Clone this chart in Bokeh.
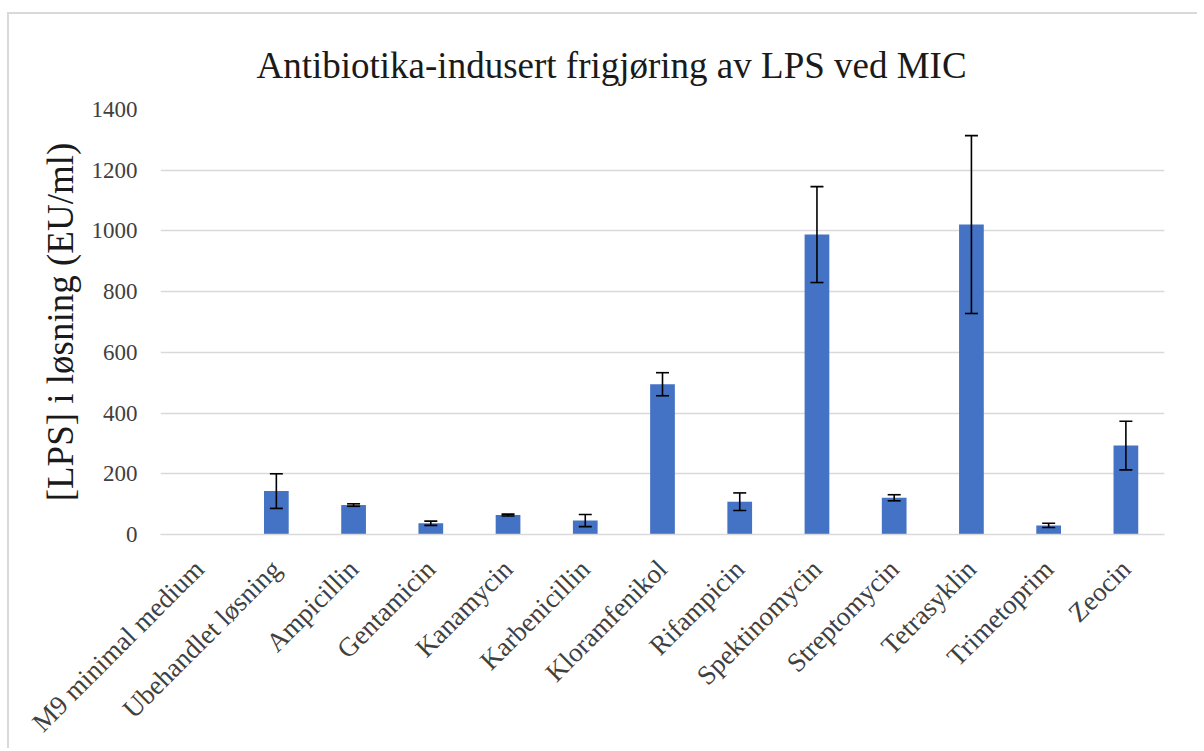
import math
from bokeh.plotting import figure
from bokeh.models import ColumnDataSource, Whisker, TeeHead, Range1d, FactorRange, Title
from bokeh.embed import file_html
from bokeh.resources import INLINE

categories = ["M9 minimal medium", "Ubehandlet løsning", "Ampicillin", "Gentamicin",
              "Kanamycin", "Karbenicillin", "Kloramfenikol", "Rifampicin",
              "Spektinomycin", "Streptomycin", "Tetrasyklin", "Trimetoprim", "Zeocin"]
values = [0, 143, 97, 37, 64, 46, 495, 108, 988, 121, 1021, 30, 293]
errors = [0, 57, 4, 7, 3, 20, 38, 29, 158, 10, 293, 7, 80]
y_ticks = [0, 200, 400, 600, 800, 1000, 1200, 1400]

title_text = "Antibiotika-indusert  frigjøring  av LPS ved MIC"
y_label = "[LPS] i løsning (EU/ml)"

SERIF = "Liberation Serif"

p = figure(width=1190, height=736, x_range=FactorRange(*categories),
           y_range=Range1d(0, 1400), output_backend="svg", toolbar_location=None,
           min_border_left=151, min_border_right=35, min_border_top=95,
           min_border_bottom=212)
p.title = Title(text=title_text, text_font=SERIF, text_font_size="37px",
                text_font_style="normal", text_color="#1a1a1a", align="left",
                offset=96, standoff=48)
p.outline_line_color = None
p.styles = {"border-top": "2px solid #d9d9d9", "border-left": "2px solid #d9d9d9",
            "margin-left": "7px", "margin-top": "12px"}

src = ColumnDataSource(data=dict(cat=categories, val=values))
p.vbar(x="cat", top="val", width=0.32, source=src, fill_color="#4472C4", line_color=None)

wc = [c for c, e in zip(categories, errors) if e > 0]
wu = [v + e for v, e in zip(values, errors) if e > 0]
wl = [v - e for v, e in zip(values, errors) if e > 0]
wsrc = ColumnDataSource(data=dict(cat=wc, upper=wu, lower=wl))
w = Whisker(source=wsrc, base="cat", upper="upper", lower="lower",
            line_color="black", line_width=1.6, level="overlay",
            upper_head=TeeHead(size=13, line_color="black", line_width=1.6),
            lower_head=TeeHead(size=13, line_color="black", line_width=1.6))
p.add_layout(w)

p.xgrid.grid_line_color = None
p.ygrid.grid_line_color = "#d9d9d9"
p.ygrid.grid_line_width = 1.5
p.yaxis.ticker = y_ticks

p.yaxis.axis_line_color = None
p.yaxis.major_tick_line_color = None
p.yaxis.minor_tick_line_color = None
p.yaxis.major_label_text_font = SERIF
p.yaxis.major_label_text_font_size = "23px"
p.yaxis.major_label_text_color = "#404040"
p.yaxis.major_label_standoff = 17
p.yaxis.axis_label = y_label
p.yaxis.axis_label_text_font = SERIF
p.yaxis.axis_label_text_font_size = "37px"
p.yaxis.axis_label_text_font_style = "normal"
p.yaxis.axis_label_text_color = "#1a1a1a"
p.yaxis.axis_label_standoff = 8

p.xaxis.axis_line_color = "#d9d9d9"
p.xaxis.axis_line_width = 1.5
p.xaxis.major_tick_line_color = None
p.xaxis.minor_tick_line_color = None
p.xaxis.major_label_orientation = math.pi / 4
p.xaxis.major_label_text_font = SERIF
p.xaxis.major_label_text_font_size = "27px"
p.xaxis.major_label_text_color = "#404040"
p.xaxis.major_label_standoff = 24

open("out.html", "w").write(file_html(p, INLINE))
